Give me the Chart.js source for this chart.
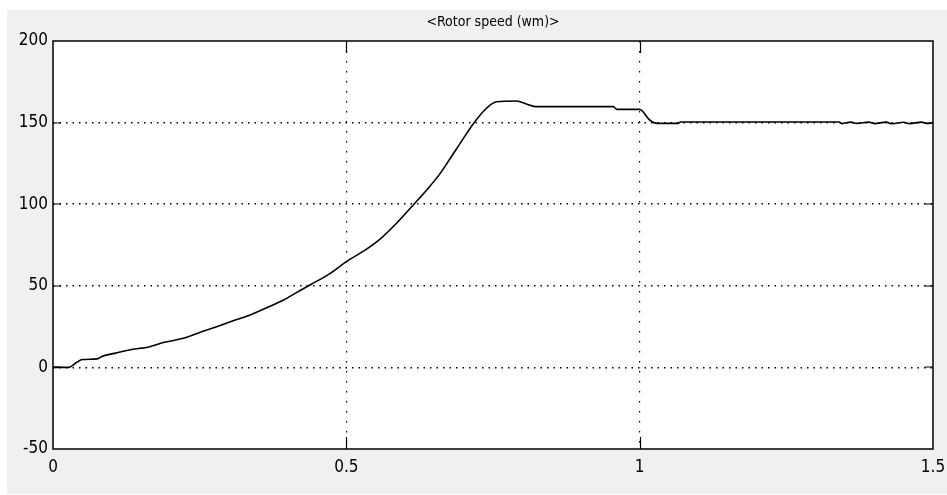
<!DOCTYPE html>
<html lang="en">
<head>
<meta charset="UTF-8" />
<title>Rotor speed</title>
<script src="https://cdn.jsdelivr.net/npm/chart.js"></script>
<style>
  html, body { margin: 0; padding: 0; background: #fff; }
  #wrap { width: 947px; height: 495px; }
</style>
</head>
<body>
<div id="wrap"><canvas id="speedChart" width="947" height="495"></canvas></div>
<script>
  // values
  const timeVals = [0, 0.027, 0.04, 0.05, 0.075, 0.085, 0.105, 0.13, 0.165, 0.188,
    0.222, 0.25, 0.279, 0.307, 0.336, 0.364, 0.393, 0.415, 0.438, 0.472,
    0.5, 0.529, 0.557, 0.586, 0.614, 0.637, 0.66, 0.677, 0.694, 0.719,
    0.739, 0.756, 0.79, 0.807, 0.822, 0.955, 0.961, 1.0, 1.017, 1.03,
    1.065, 1.07, 1.34, 1.345, 1.36, 1.37, 1.39, 1.4, 1.42, 1.43,
    1.45, 1.46, 1.48, 1.49, 1.5];
  const speedVals = [0, 0, 3, 4.8, 5.2, 7, 8.6, 10.7, 12.7, 15.2,
    17.8, 21.4, 24.9, 28.6, 32.1, 36.5, 41.3, 45.8, 50.5, 57.5,
    64.8, 71.2, 78.5, 88.5, 99.5, 108.7, 118.9, 128, 137.3, 150.5,
    158.8, 162.8, 163.2, 161.4, 159.8, 159.8, 158.1, 158.1, 151.6, 149.5,
    149.5, 150.4, 150.4, 149.4, 150.3, 149.5, 150.3, 149.4, 150.3, 149.3,
    150.2, 149.4, 150.3, 149.4, 150];
  const xTicks = [0, 0.5, 1, 1.5];
  const yTicks = [-50, 0, 50, 100, 150, 200];
  const titleText = "<Rotor speed (wm)>";

  const FONT = "'Liberation Sans Narrow', 'DejaVu Sans Condensed', Arial, sans-serif";

  const points = timeVals.map((t, i) => ({ x: t, y: speedVals[i] }));

  const scopePlugin = {
    id: "scope",
    beforeDraw(chart) {
      const { ctx, chartArea: a } = chart;
      ctx.save();
      ctx.fillStyle = "#ffffff";
      ctx.fillRect(0, 0, chart.width, chart.height);
      ctx.fillStyle = "#f0f0f0";
      ctx.fillRect(7, 10, chart.width - 7, chart.height - 11);
      ctx.fillStyle = "#ffffff";
      ctx.fillRect(a.left, a.top, a.right - a.left, a.bottom - a.top);
      ctx.restore();
    },
    afterDraw(chart) {
      const { ctx, chartArea: a, scales } = chart;
      ctx.save();
      ctx.strokeStyle = "#000";
      ctx.lineWidth = 1.5;
      ctx.strokeRect(a.left, a.top, a.right - a.left, a.bottom - a.top);
      // inward tick marks
      ctx.lineWidth = 1.2;
      ctx.beginPath();
      xTicks.forEach((v) => {
        if (v === xTicks[0] || v === xTicks[xTicks.length - 1]) return;
        const px = Math.round(scales.x.getPixelForValue(v)) + 0.5;
        ctx.moveTo(px, a.bottom); ctx.lineTo(px, a.bottom - 12);
        ctx.moveTo(px, a.top); ctx.lineTo(px, a.top + 12);
      });
      yTicks.forEach((v) => {
        if (v === yTicks[0] || v === yTicks[yTicks.length - 1]) return;
        const py = Math.round(scales.y.getPixelForValue(v));
        ctx.moveTo(a.left, py); ctx.lineTo(a.left + 8, py);
        ctx.moveTo(a.right, py); ctx.lineTo(a.right - 8, py);
      });
      ctx.stroke();
      // title
      ctx.fillStyle = "#000";
      ctx.font = "14px " + FONT;
      ctx.textAlign = "center";
      ctx.textBaseline = "middle";
      ctx.fillText(titleText, (a.left + a.right) / 2, 22);
      ctx.restore();
    },
  };

  const gridColor = (c) =>
    c.tick && (c.tick.value === c.scale.min || c.tick.value === c.scale.max)
      ? "rgba(0,0,0,0)" : "#000";

  new Chart(document.getElementById("speedChart").getContext("2d"), {
    type: "line",
    data: {
      datasets: [{
        data: points,
        borderColor: "#000",
        borderWidth: 1.6,
        pointRadius: 0,
        cubicInterpolationMode: "monotone",
        fill: false,
      }],
    },
    options: {
      responsive: false,
      animation: false,
      layout: { padding: { left: 0, top: 41, right: 14, bottom: 0 } },
      plugins: { legend: { display: false }, tooltip: { enabled: false } },
      scales: {
        x: {
          type: "linear",
          min: 0,
          max: 1.5,
          afterFit: (s) => { s.height = 46; s.paddingLeft = 0; s.paddingRight = 0; },
          ticks: {
            stepSize: 0.5,
            color: "#000",
            padding: 8,
            maxRotation: 0,
            font: { family: FONT, size: 17 },
            callback: (v) => (xTicks.includes(v) ? String(v) : ""),
          },
          grid: { color: gridColor, lineWidth: 1.2, drawTicks: false },
          border: { display: false, dash: [1.5, 8.5] },
        },
        y: {
          min: -50,
          max: 200,
          afterFit: (s) => { s.width = 53; s.paddingTop = 0; s.paddingBottom = 0; },
          ticks: {
            stepSize: 50,
            color: "#000",
            padding: 5,
            font: { family: FONT, size: 17 },
          },
          grid: { color: gridColor, lineWidth: 1.5, drawTicks: false },
          border: { display: false, dash: [1.5, 5] },
        },
      },
    },
    plugins: [scopePlugin],
  });
</script>
</body>
</html>
